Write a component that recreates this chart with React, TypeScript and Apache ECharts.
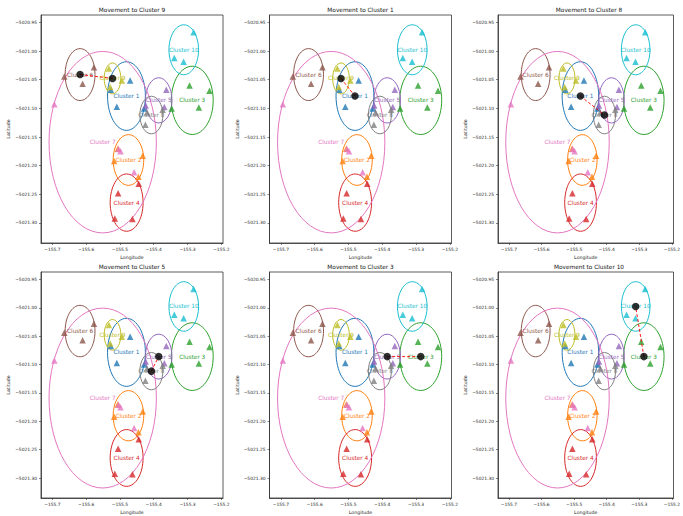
import React, { useEffect, useRef } from 'react';
import * as echarts from 'echarts';

// ---------- data ----------
const clusterNames = ['Cluster 1', 'Cluster 2', 'Cluster 3', 'Cluster 4', 'Cluster 5', 'Cluster 6', 'Cluster 7', 'Cluster 8', 'Cluster 9', 'Cluster 10'];
const centerLon = [-155.4807, -155.4748, -155.286, -155.4802, -155.3853, -155.618, -155.551, -155.407, -155.522, -155.3111];
const centerLat = [-5021.0785, -5021.1901, -5021.086, -5021.2645, -5021.086, -5021.041, -5021.159, -5021.1116, -5021.0477, -5020.9977];
const spreadLon = [0.056, 0.0452, 0.062, 0.0487, 0.0393, 0.0442, 0.1588, 0.034, 0.0246, 0.0438];
const spreadLat = [0.0599, 0.0442, 0.0596, 0.05, 0.0395, 0.0453, 0.1584, 0.0328, 0.027, 0.0436];

// member points (cluster index 0-based, longitude, latitude)
const pointCluster = [0, 0, 0, 0, 1, 1, 1, 1, 2, 2, 2, 2, 3, 3, 3, 3, 4, 4, 4, 5, 5, 5, 6, 6, 6, 6, 7, 7, 7, 8, 8, 8, 9, 9, 9];
const pointLon = [
  -155.4699, -155.5092, -155.5269, -155.4286,
  -155.5171, -155.4325, -155.4453, -155.5063,
  -155.2939, -155.2349, -155.2664, -155.347,
  -155.5053, -155.4443, -155.5151, -155.463,
  -155.3627, -155.3686, -155.4237,
  -155.6646, -155.6105, -155.577,
  -155.6941, -155.5043, -155.4984, -155.4581,
  -155.4198, -155.4247, -155.3736,
  -155.5328, -155.4945, -155.5289,
  -155.2821, -155.3391, -155.3116,
];
const pointLat = [
  -5021.0512, -5021.0971, -5021.0674, -5021.1,
  -5021.1919, -5021.1826, -5021.2192, -5021.1703,
  -5021.0599, -5021.0692, -5021.0983, -5021.1,
  -5021.2483, -5021.2314, -5021.2924, -5021.293,
  -5021.0674, -5021.0977, -5021.0948,
  -5021.0442, -5021.057, -5021.028,
  -5021.093, -5021.1709, -5021.175, -5021.2116,
  -5021.107, -5021.1285, -5021.1023,
  -5021.0302, -5021.0512, -5021.0628,
  -5020.9669, -5021.0122, -5021.0186,
];

// cluster numbers visited in order
const movementPath = [6, 9, 1, 8, 5, 3, 10];

const lonMin = -155.7336;
const lonMax = -155.195;
const latMin = -5021.335;
const latMax = -5020.937;

// ---------- style ----------
const palette = ['#1f77b4', '#ff7f0e', '#2ca02c', '#d62728', '#9467bd', '#8c564b', '#e377c2', '#7f7f7f', '#bcbd22', '#17becf'];
const FONT = 'DejaVu Sans';
const gridLefts = [41, 269.5, 498];
const gridTops = [15, 272];
const GW = 182;
const GH = 228;
const MINUS = '\u2212';

function buildOption() {
  const grids: any[] = [];
  const xAxes: any[] = [];
  const yAxes: any[] = [];
  const titles: any[] = [];
  const series: any[] = [];

  for (let p = 0; p < 6; p++) {
    const row = Math.floor(p / 3);
    const col = p % 3;
    const left = gridLefts[col];
    const top = gridTops[row];
    const from = movementPath[p] - 1;
    const to = movementPath[p + 1] - 1;

    grids.push({ left, top, width: GW, height: GH, show: true, borderColor: '#333', borderWidth: 0.8, backgroundColor: 'transparent' });
    titles.push({
      text: 'Movement to ' + clusterNames[to],
      left: left + GW / 2,
      top: top - 8.5,
      textAlign: 'center',
      padding: 0,
      textStyle: { fontSize: 5.8, fontWeight: 'normal', color: '#111', fontFamily: FONT },
    });
    xAxes.push({
      gridIndex: p,
      type: 'value',
      min: lonMin,
      max: lonMax,
      splitNumber: 5,
      splitLine: { show: false },
      axisLine: { show: true, onZero: false, lineStyle: { color: '#333', width: 0.8 } },
      axisTick: { show: true, length: 2, lineStyle: { color: '#333', width: 0.6 } },
      axisLabel: {
        fontSize: 4.4,
        color: '#222',
        fontFamily: FONT,
        margin: 4,
        showMinLabel: false,
        showMaxLabel: false,
        formatter: (v: number) => v.toFixed(1).replace('-', MINUS),
      },
      name: 'Longitude',
      nameLocation: 'middle',
      nameGap: 12,
      nameTextStyle: { fontSize: 4.7, color: '#222', fontFamily: FONT },
    });
    yAxes.push({
      gridIndex: p,
      type: 'value',
      min: latMin,
      max: latMax,
      splitNumber: 8,
      scale: true,
      splitLine: { show: false },
      axisLine: { show: true, onZero: false, lineStyle: { color: '#333', width: 0.8 } },
      axisTick: { show: true, length: 2, lineStyle: { color: '#333', width: 0.6 } },
      axisLabel: {
        fontSize: 4.4,
        color: '#222',
        fontFamily: FONT,
        margin: 4,
        showMinLabel: false,
        showMaxLabel: false,
        formatter: (v: number) => v.toFixed(2).replace('-', MINUS),
      },
      name: 'Latitude',
      nameLocation: 'middle',
      nameGap: 30,
      nameTextStyle: { fontSize: 4.7, color: '#222', fontFamily: FONT },
    });

    // ellipses
    series.push({
      type: 'custom',
      xAxisIndex: p,
      yAxisIndex: p,
      z: 1,
      silent: true,
      clip: false,
      renderItem: (params: any, api: any) => {
        const i = api.value(4);
        const c = api.coord([api.value(0), api.value(1)]);
        const s = api.size([api.value(2), api.value(3)]);
        return {
          type: 'ellipse',
          shape: { cx: c[0], cy: c[1], rx: Math.abs(s[0]), ry: Math.abs(s[1]) },
          style: { fill: 'none', stroke: palette[i], lineWidth: 1 },
        };
      },
      data: clusterNames.map((_, i) => [centerLon[i], centerLat[i], spreadLon[i], spreadLat[i], i]),
    });

    // member triangles
    series.push({
      type: 'scatter',
      xAxisIndex: p,
      yAxisIndex: p,
      z: 2,
      silent: true,
      symbol: 'triangle',
      symbolSize: 6.5,
      data: pointLon.map((lon, k) => ({ value: [lon, pointLat[k]], itemStyle: { color: palette[pointCluster[k]] } })),
    });

    // cluster labels
    series.push({
      type: 'custom',
      xAxisIndex: p,
      yAxisIndex: p,
      z: 3,
      silent: true,
      clip: false,
      renderItem: (params: any, api: any) => {
        const i = api.value(2);
        const c = api.coord([api.value(0), api.value(1)]);
        return {
          type: 'text',
          x: c[0],
          y: c[1],
          style: {
            text: clusterNames[i],
            fill: palette[i],
            fontSize: 5.8,
            fontFamily: FONT,
            align: 'center',
            verticalAlign: 'middle',
          },
        };
      },
      data: clusterNames.map((_, i) => [centerLon[i], centerLat[i], i]),
    });

    // movement line
    series.push({
      type: 'line',
      xAxisIndex: p,
      yAxisIndex: p,
      z: 4,
      silent: true,
      symbol: 'none',
      lineStyle: { color: '#ff0000', type: [3, 2], width: 0.9 },
      data: [
        [centerLon[from], centerLat[from]],
        [centerLon[to], centerLat[to]],
      ],
    });

    // moving points
    series.push({
      type: 'scatter',
      xAxisIndex: p,
      yAxisIndex: p,
      z: 5,
      silent: true,
      symbol: 'circle',
      symbolSize: 7.5,
      itemStyle: { color: '#000' },
      data: [
        [centerLon[from], centerLat[from]],
        [centerLon[to], centerLat[to]],
      ],
    });
  }

  return {
    animation: false,
    backgroundColor: '#fff',
    title: titles,
    grid: grids,
    xAxis: xAxes,
    yAxis: yAxes,
    series,
  };
}

export default function App() {
  const ref = useRef<HTMLDivElement>(null);
  useEffect(() => {
    if (!ref.current) return;
    const chart = echarts.init(ref.current, undefined, { renderer: 'svg' });
    chart.setOption(buildOption() as any);
    return () => chart.dispose();
  }, []);
  return (
    <div
      ref={ref}
      style={{ position: 'absolute', left: 0, top: 0, width: 683, height: 516, background: '#fff' }}
    />
  );
}
